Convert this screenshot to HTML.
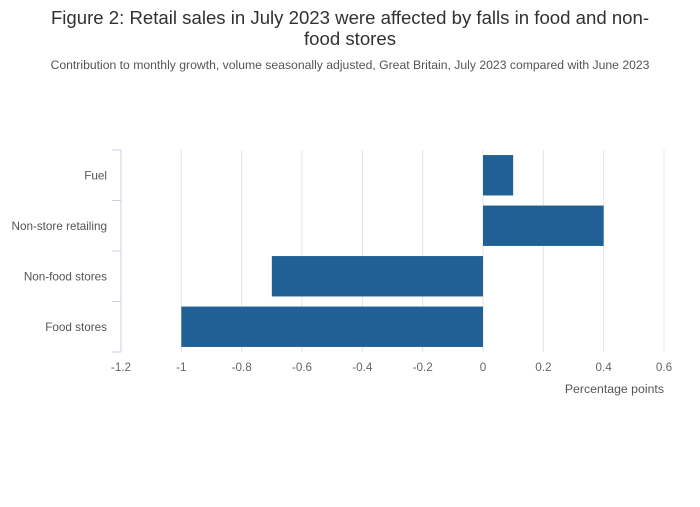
<!DOCTYPE html>
<html><head><meta charset="utf-8"><style>
body{margin:0;background:#fff;width:700px;height:502px;overflow:hidden;font-family:"Liberation Sans",sans-serif}
</style></head><body>
<svg id="chart" width="700" height="502" xmlns="http://www.w3.org/2000/svg">
<text x="350" y="24" text-anchor="middle" font-size="18.6" fill="#323132">Figure 2: Retail sales in July 2023 were affected by falls in food and non-</text>
<text x="350" y="45" text-anchor="middle" font-size="18.6" fill="#323132">food stores</text>
<text x="350" y="69" text-anchor="middle" font-size="12.2" fill="#555">Contribution to monthly growth, volume seasonally adjusted, Great Britain, July 2023 compared with June 2023</text>
<g id="grid"></g><g id="bars"></g><g id="axes"></g>
<text x="664" y="393" text-anchor="end" font-size="12.3" fill="#555">Percentage points</text>
</svg>
<script>
const categories=["Fuel","Non-store retailing","Non-food stores","Food stores"];
const values=[0.1,0.4,-0.7,-1];
const xTicks=[-1.2,-1,-0.8,-0.6,-0.4,-0.2,0,0.2,0.4,0.6];
const xTickLabels=["-1.2","-1","-0.8","-0.6","-0.4","-0.2","0","0.2","0.4","0.6"];
const NS="http://www.w3.org/2000/svg";
const x0=121,x1=664,yTop=150,yBot=352,xmin=-1.2,xmax=0.6;
const xs=v=>x0+(v-xmin)/(xmax-xmin)*(x1-x0);
const band=(yBot-yTop)/categories.length;
const ys=i=>yTop+i*band;
function mk(t,a,p){const e=document.createElementNS(NS,t);for(const k in a)e.setAttribute(k,a[k]);p.appendChild(e);return e;}
const grid=document.getElementById('grid'),bars=document.getElementById('bars'),axes=document.getElementById('axes');
xTicks.forEach((v,i)=>{
 if(i>0){const g=mk('line',{x1:xs(v),x2:xs(v),y1:yTop,y2:yBot,stroke:'#e4e4e4','stroke-width':1},grid);
 
 }
 const t=mk('text',{x:xs(v),y:371,'text-anchor':'middle','font-size':11.7,fill:'#666'},axes);t.textContent=xTickLabels[i];
 
 
});
categories.forEach((c,i)=>{
 const v=values[i],a=xs(Math.min(0,v)),b=xs(Math.max(0,v));
 const r=mk('rect',{x:a,y:ys(i)+band*0.1,width:b-a,height:band*0.8,fill:'#206095'},bars);
 
 
 const t=mk('text',{x:107,y:ys(i)+band/2+4,'text-anchor':'end','font-size':11.7,fill:'#555'},axes);t.textContent=c;
 
 
});
const ax=mk('line',{x1:x0,x2:x0,y1:yTop,y2:yBot,stroke:'#c8d0e0','stroke-width':1},axes);


for(let i=0;i<=categories.length;i++){
 const tk=mk('line',{x1:112,x2:x0,y1:ys(i),y2:ys(i),stroke:'#c8d0e0','stroke-width':1},axes);
 
 
}
</script>
</body></html>
